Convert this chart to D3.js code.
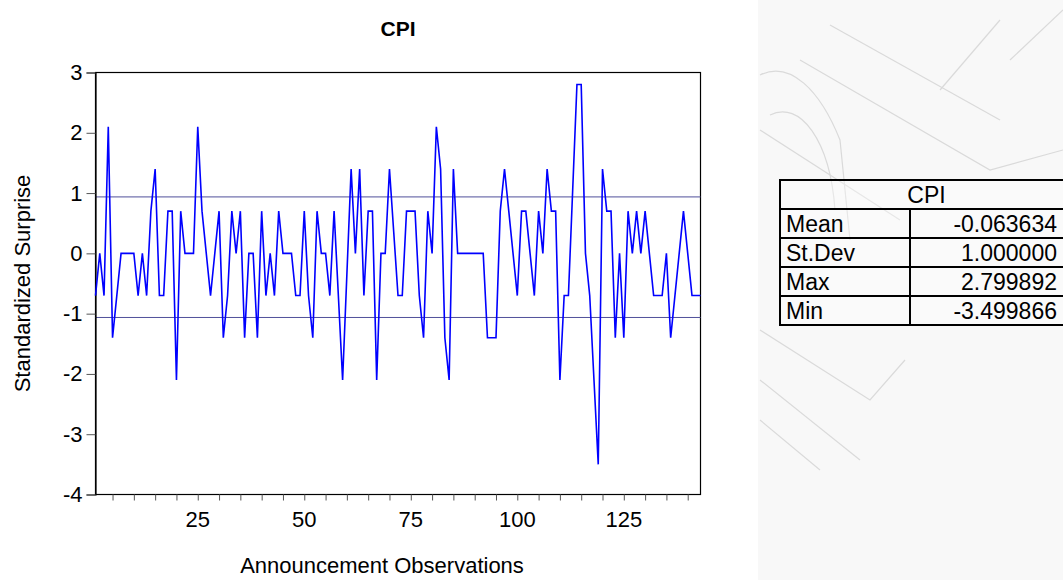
<!DOCTYPE html>
<html>
<head>
<meta charset="utf-8">
<script src="https://cdn.jsdelivr.net/npm/d3@7"></script>
<style>
  html, body { margin: 0; padding: 0; background: #fff; }
  svg { display: block; font-family: Arial, "Liberation Sans", sans-serif; }
</style>
</head>
<body>
<div id="chart"></div>
<script>
// CPI standardized surprises, one per announcement
const surprises = [
  -0.7, 0, -0.7, 2.1, -1.4, -0.7, 0, 0, 0, 0,
  -0.7, 0, -0.7, 0.7, 1.4, -0.7, -0.7, 0.7, 0.7, -2.1,
  0.7, 0, 0, 0, 2.1, 0.7, 0, -0.7, 0, 0.7,
  -1.4, -0.7, 0.7, 0, 0.7, -1.4, 0, 0, -1.4, 0.7,
  -0.7, 0, -0.7, 0.7, 0, 0, 0, -0.7, -0.7, 0.7,
  -0.7, -1.4, 0.7, 0, 0, -0.7, 0.7, -0.7, -2.1, -0.35,
  1.4, 0, 1.4, -0.7, 0.7, 0.7, -2.1, 0, 0, 1.4,
  0.35, -0.7, -0.7, 0.7, 0.7, 0.7, -0.7, -1.4, 0.7, 0,
  2.1, 1.4, -1.4, -2.1, 1.4, 0, 0, 0, 0, 0,
  0, 0, -1.4, -1.4, -1.4, 0.7, 1.4, 0.7, 0, -0.7,
  0.7, 0.7, 0, -0.7, 0.7, 0, 1.4, 0.7, 0.7, -2.1,
  -0.7, -0.7, 1.05, 2.8, 2.8, 0, -0.7, -2.1, -3.5, 1.4,
  0.7, 0.7, -1.4, 0, -1.4, 0.7, 0, 0.7, 0, 0.7,
  0, -0.7, -0.7, -0.7, 0, -1.4, -0.7, 0, 0.7, 0,
  -0.7, -0.7, -0.7
];

// Summary table
const statNames = ["Mean", "St.Dev", "Max", "Min"];
const statValues = ["-0.063634", "1.000000", "2.799892", "-3.499866"];
const seriesName = "CPI";

// Axis ticks
const yTicks = [-4, -3, -2, -1, 0, 1, 2, 3];
const xMinorTicks = d3.range(5, 141, 5);
const xLabelTicks = [25, 50, 75, 100, 125];

const width = 1063;
const height = 580;
const marginTop = 72.5;
const marginBottom = 85.5;
const marginLeft = 95.5;
const plotRight = 700.5;

const svg = d3
  .select("#chart")
  .append("svg")
  .attr("width", width)
  .attr("height", height)
  .attr("viewBox", [0, 0, width, height]);

// Faint watermark panel on the right
const wm = svg.append("g");
wm.append("rect")
  .attr("x", 758)
  .attr("y", 0)
  .attr("width", width - 758)
  .attr("height", height)
  .attr("fill", "#f8f8f8");
const wmStrokes = [
  "M800,60 L990,170 L1063,150",
  "M830,25 L1000,120",
  "M760,75 C790,60 820,90 840,140 L850,240",
  "M770,115 C800,100 830,140 835,210",
  "M760,130 L900,220",
  "M760,330 L870,400 L905,360",
  "M760,380 L860,460",
  "M760,420 L820,470",
  "M940,90 L1000,20",
  "M1010,60 L1063,10",
];
wm.selectAll("path")
  .data(wmStrokes)
  .join("path")
  .attr("d", (d) => d)
  .attr("fill", "none")
  .attr("stroke", "#dadada")
  .attr("stroke-width", 1.2);

// Scales
const x = d3
  .scaleLinear()
  .domain([1, surprises.length])
  .range([marginLeft, plotRight]);

const y = d3
  .scaleLinear()
  .domain([-4, 3])
  .range([height - marginBottom, marginTop]);

// Frame around the plot
svg
  .append("rect")
  .attr("x", marginLeft)
  .attr("y", marginTop)
  .attr("width", plotRight - marginLeft)
  .attr("height", height - marginBottom - marginTop)
  .attr("fill", "none")
  .attr("stroke", "#000")
  .attr("stroke-width", 1.2);

// Mean +/- one st.dev bands
const mean = +statValues[0];
const sd = +statValues[1];
svg
  .append("g")
  .selectAll("line")
  .data([mean + sd, mean - sd])
  .join("line")
  .attr("x1", marginLeft)
  .attr("x2", plotRight)
  .attr("y1", (d) => y(d))
  .attr("y2", (d) => y(d))
  .attr("stroke", "#50509a")
  .attr("stroke-width", 1);

// Y axis (plain hyphen for negatives)
svg
  .append("g")
  .attr("transform", `translate(${marginLeft},0)`)
  .call(d3.axisLeft(y).tickValues(yTicks).tickSize(9).tickPadding(4).tickFormat((d) => String(d)))
  .call((g) => g.select(".domain").attr("stroke", "#000").attr("stroke-width", 1.2))
  .call((g) => g.selectAll(".tick line").attr("stroke", "#555"))
  .call((g) =>
    g.selectAll(".tick text")
      .attr("font-size", 22)
      .attr("fill", "#000")
      .attr("font-family", "Arial, 'Liberation Sans', sans-serif"),
  );

// X axis: minor ticks every 5, labels every 25
const xAxis = svg
  .append("g")
  .attr("transform", `translate(0,${height - marginBottom})`);
xAxis
  .call(d3.axisBottom(x).tickValues(xMinorTicks).tickSize(6).tickFormat(""))
  .call((g) => g.select(".domain").remove())
  .call((g) => g.selectAll(".tick line").attr("stroke", "#555"));
xAxis
  .selectAll(".xlabel")
  .data(xLabelTicks)
  .join("text")
  .attr("class", "xlabel")
  .attr("x", (d) => x(d))
  .attr("y", 32)
  .attr("text-anchor", "middle")
  .attr("font-size", 22)
  .attr("fill", "#000")
  .text((d) => d);

// The series
const line = d3
  .line()
  .x((d, i) => x(i + 1))
  .y((d) => y(d));

svg
  .append("path")
  .datum(surprises)
  .attr("fill", "none")
  .attr("stroke", "#0000ff")
  .attr("stroke-width", 1.6)
  .attr("stroke-linejoin", "miter")
  .attr("d", line);

// Titles
svg
  .append("text")
  .attr("x", (marginLeft + plotRight) / 2)
  .attr("y", 36)
  .attr("text-anchor", "middle")
  .attr("font-size", 21)
  .attr("font-weight", "bold")
  .text(seriesName);

svg
  .append("text")
  .attr("x", 382)
  .attr("y", 573)
  .attr("text-anchor", "middle")
  .attr("font-size", 22)
  .text("Announcement Observations");

svg
  .append("text")
  .attr("transform", `translate(30,${(marginTop + height - marginBottom) / 2}) rotate(-90)`)
  .attr("text-anchor", "middle")
  .attr("font-size", 22)
  .text("Standardized Surprise");

// Summary table
const tLeft = 780;
const tMid = 910;
const tRight = 1073;
const tTop = 180;
const rowH = 29;
const table = svg.append("g");

table
  .append("rect")
  .attr("x", tLeft)
  .attr("y", tTop)
  .attr("width", tRight - tLeft)
  .attr("height", rowH * (statNames.length + 1))
  .attr("fill", "#fff")
  .attr("fill-opacity", 0.35)
  .attr("stroke", "#000")
  .attr("stroke-width", 2);

table
  .append("text")
  .attr("x", (tLeft + tRight) / 2)
  .attr("y", tTop + rowH / 2)
  .attr("dy", "0.36em")
  .attr("text-anchor", "middle")
  .attr("font-size", 23)
  .text(seriesName);

table
  .selectAll(".rowline")
  .data(statNames)
  .join("line")
  .attr("class", "rowline")
  .attr("x1", tLeft)
  .attr("x2", tRight)
  .attr("y1", (d, i) => tTop + rowH * (i + 1))
  .attr("y2", (d, i) => tTop + rowH * (i + 1))
  .attr("stroke", "#000")
  .attr("stroke-width", 2);

table
  .append("line")
  .attr("x1", tMid)
  .attr("x2", tMid)
  .attr("y1", tTop + rowH)
  .attr("y2", tTop + rowH * (statNames.length + 1))
  .attr("stroke", "#000")
  .attr("stroke-width", 2);

table
  .selectAll(".name")
  .data(statNames)
  .join("text")
  .attr("class", "name")
  .attr("x", tLeft + 6)
  .attr("y", (d, i) => tTop + rowH * (i + 1.5))
  .attr("dy", "0.36em")
  .attr("font-size", 23)
  .text((d) => d);

table
  .selectAll(".value")
  .data(statValues)
  .join("text")
  .attr("class", "value")
  .attr("x", 1057)
  .attr("y", (d, i) => tTop + rowH * (i + 1.5))
  .attr("dy", "0.36em")
  .attr("text-anchor", "end")
  .attr("font-size", 23)
  .text((d) => d);
</script>
</body>
</html>
